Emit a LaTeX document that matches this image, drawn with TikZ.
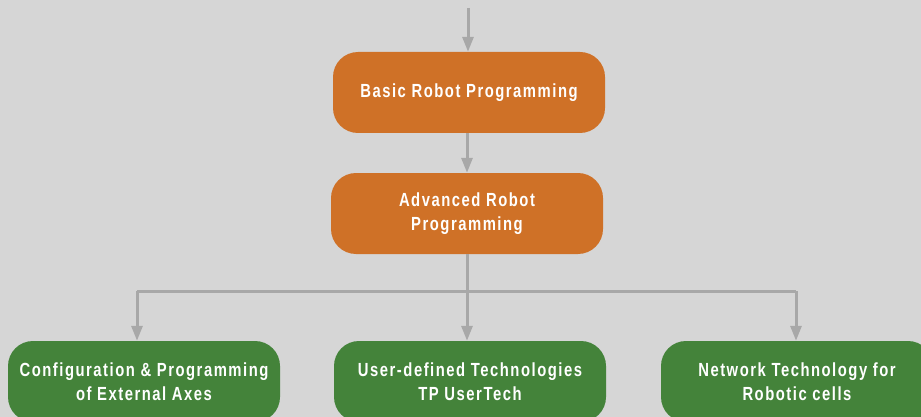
\documentclass[tikz,border=0pt]{standalone}
\usepackage{fontspec}
\newfontfamily\boxfont{Liberation Sans}[FakeStretch=0.78,LetterSpace=8]
\usetikzlibrary{arrows.meta}
\definecolor{bgray}{RGB}{214,214,214}
\definecolor{lgray}{RGB}{168,168,168}
\definecolor{rorange}{RGB}{207,113,39}
\definecolor{rgreen}{RGB}{68,131,58}

\begin{document}
\begin{tikzpicture}[x=1pt,y=-1pt,
  course/.style={rounded corners=25pt,minimum width=272pt,minimum height=81pt,
    inner sep=0pt,align=center,text=white,
    font=\boxfont\bfseries\fontsize{19}{23.5}\selectfont},
  basic/.style={course,fill=rorange},
  extra/.style={course,fill=rgreen},
  link/.style={lgray,line width=3pt,-{Triangle[length=15pt,width=11pt]}}]
\useasboundingbox (0,0) rectangle (921,417);
\fill [bgray] (0,0) rectangle (921,417);
\clip (0,0) rectangle (921,417);
% upper part
\node [basic] (brp) at (469,92.5) {Basic Robot Programming};
\node [basic] (arp) at (467,213.5) {Advanced Robot\\Programming};
% courses below
\node [extra] (cpe) at (144,381.5) {Configuration \& Programming\\of External Axes};
\node [extra] (udt) at (470,381.5) {User-defined Technologies\\TP UserTech};
\node [extra] (ntr) at (797,381.5) {Network Technology for\\Robotic cells};
\coordinate (top) at (468,8);
\coordinate (split) at (467,291);
\coordinate (left) at (137,291);
\coordinate (right) at (796,291);
\draw [link] (top) -- (top |- brp.north);
\draw [link] (brp.south -| arp.north) -- (arp.north);
\draw [lgray,line width=3pt] (arp.south) -- (split);
\draw [lgray,line width=3pt] (left) -- (right);
\draw [link] (left) -- (left |- cpe.north);
\draw [link] (split) -- (split |- udt.north);
\draw [link] (right) -- (right |- ntr.north);
\end{tikzpicture}
\end{document}
